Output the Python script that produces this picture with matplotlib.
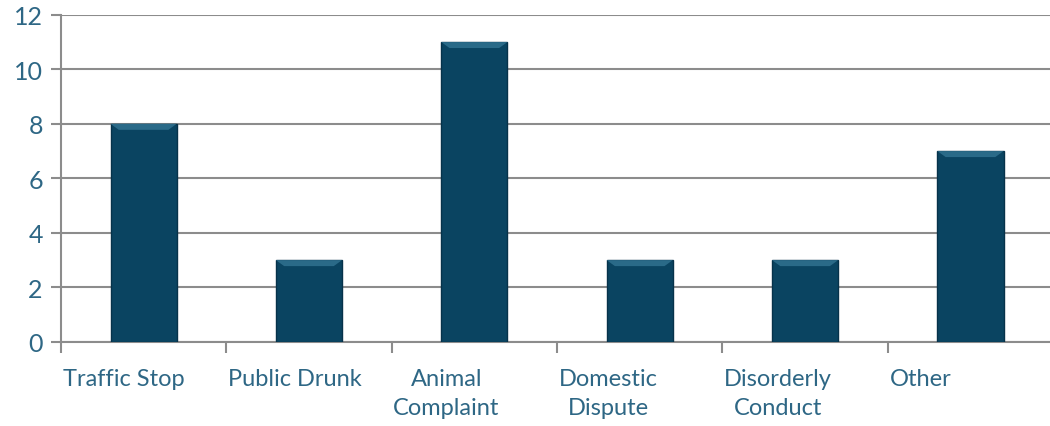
import matplotlib.pyplot as plt
from matplotlib.patches import Polygon

categories = ["Traffic Stop", "Public Drunk", "Animal\nComplaint",
              "Domestic\nDispute", "Disorderly\nConduct", "Other"]
counts = [8, 3, 11, 3, 3, 7]
y_ticks = [0, 2, 4, 6, 8, 10, 12]

text_col = "#2e6785"
bar_col = "#0a4461"

plt.rcParams["font.family"] = ["Lato", "DejaVu Sans"]

fig = plt.figure(figsize=(10.5, 4.27), dpi=100)
ax = fig.add_axes([0.058, 0.197, 0.945, 0.766])

pos = [i + 0.5 for i in range(len(counts))]
width = 0.4
ax.bar(pos, counts, width=width, color=bar_col, edgecolor="#06324a",
       linewidth=1.0, zorder=3)

# lighter bevel at top of each bar
bev_x = 0.05
bev_y = 0.22
for x, h in zip(pos, counts):
    l, r = x - width / 2, x + width / 2
    ax.add_patch(Polygon([(l, h), (r, h), (r - bev_x, h - bev_y), (l + bev_x, h - bev_y)],
                         closed=True, color="#2a6a88", zorder=4, lw=0))

ax.set_ylim(0, 12)
ax.set_xlim(0, 6)
ax.set_yticks(y_ticks)
ax.yaxis.grid(True, color="#8c8c8c", linewidth=1.5, zorder=0)
ax.set_axisbelow(True)

ax.set_xticks(range(len(categories) + 1))
ax.set_xticklabels([])
for i, lab in enumerate(categories):
    ax.text(i + 0.01, -0.95, lab, ha="left", va="top", multialignment="center",
            fontsize=17, color=text_col, linespacing=1.5, transform=ax.transData)

for s in ["top", "right"]:
    ax.spines[s].set_visible(False)
for s in ["left", "bottom"]:
    ax.spines[s].set_color("#8c8c8c")
    ax.spines[s].set_linewidth(1.5)

ax.tick_params(axis="y", colors="#8c8c8c", length=7, width=1.5,
               labelcolor=text_col, labelsize=18, pad=6)
ax.tick_params(axis="x", colors="#8c8c8c", length=8, width=1.5)

fig.savefig("out.png", dpi=100)
